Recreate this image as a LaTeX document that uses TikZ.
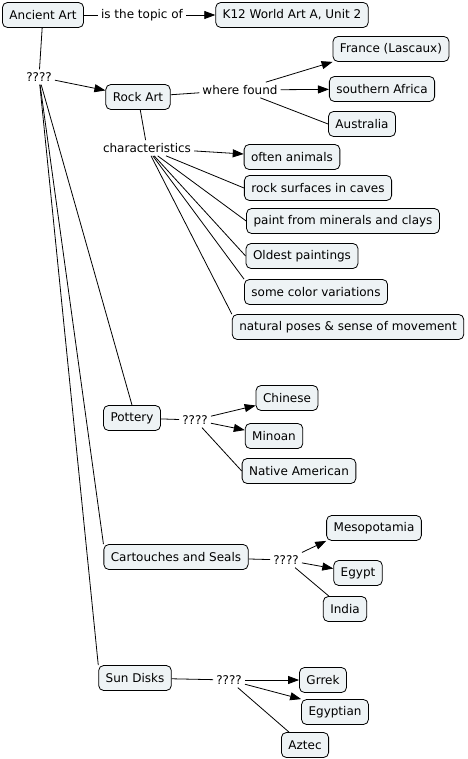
\documentclass[tikz,border=0pt]{standalone}
\usepackage{fontspec}
\setmainfont{DejaVu Sans}
\usetikzlibrary{arrows.meta}
\definecolor{BX}{RGB}{238,243,245}

\begin{document}
\begin{tikzpicture}[x=1pt, y=-1pt,
  cpt/.style={draw, rounded corners=5pt, fill=BX, line width=0.8pt,
              minimum height=25pt, inner xsep=7pt, font=\fontsize{12}{14}\selectfont},
  lnk/.style={inner sep=3pt, font=\fontsize{12}{14}\selectfont},
  arr/.style={-{Triangle[length=11pt,width=8pt]}, line width=0.8pt},
  ln/.style={line width=0.8pt}
]
\useasboundingbox (0,0) rectangle (467,759);

\node[cpt] (an)  at (43,15)   {Ancient Art};
\node[lnk] (top) at (142,15)  {is the topic of};
\node[cpt] (k12) at (292,15)  {K12 World Art A, Unit 2};
\node[lnk] (q0)  at (39,77)   {????};
\node[cpt] (rock) at (138,97) {Rock Art};
\node[lnk] (wf)  at (240,90)  {where found};
\node[cpt] (fr)  at (391,49)  {France (Lascaux)};
\node[cpt] (sa)  at (382,89)  {southern Africa};
\node[cpt] (au)  at (362,124) {Australia};
\node[lnk] (chr) at (147,148) {characteristics};
\node[cpt] (c1)  at (292,157) {often animals};
\node[cpt] (c2)  at (318,188) {rock surfaces in caves};
\node[cpt] (c3)  at (343,221) {paint from minerals and clays};
\node[cpt] (c4)  at (302,256) {Oldest paintings};
\node[cpt] (c5)  at (316,292) {some color variations};
\node[cpt] (c6)  at (348,327) {natural poses \& sense of movement};

\node[cpt] (pot) at (132,418) {Pottery};
\node[lnk] (q1)  at (195,420) {????};
\node[cpt] (chi) at (287,398) {Chinese};
\node[cpt] (min) at (274,436) {Minoan};
\node[cpt] (nat) at (299,471) {Native American};

\node[cpt] (car) at (176,557) {Cartouches and Seals};
\node[lnk] (q2)  at (286,560) {????};
\node[cpt] (mes) at (374,528) {Mesopotamia};
\node[cpt] (egy) at (358,573) {Egypt};
\node[cpt] (ind) at (345,609) {India};

\node[cpt] (sun) at (135,678) {Sun Disks};
\node[lnk] (q3)  at (229,680) {????};
\node[cpt] (grk) at (323,680) {Grrek};
\node[cpt] (egn) at (335,712) {Egyptian};
\node[cpt] (azt) at (305,745) {Aztec};

\draw[ln]  (an) -- (top);
\draw[arr] (top) -- (k12);
\draw[ln]  (an) -- (q0);
\draw[arr] (q0) -- (rock);
\draw[ln]  (q0) -- (pot.north);
\draw[ln]  (q0) -- (car.north west);
\draw[ln]  (q0) -- (sun.north west);

\draw[ln]  (rock) -- (wf);
\draw[arr] (wf) -- (fr.south west);
\draw[arr] (wf) -- (sa);
\draw[ln]  (wf) -- (au.west);
\draw[ln]  (rock) -- (chr);
\draw[arr] (chr) -- (c1);
\draw[ln]  (chr) -- (c2.west);
\draw[ln]  (chr) -- (c3.west);
\draw[ln]  (chr) -- (c4.west);
\draw[ln]  (chr) -- (c5.north west);
\draw[ln]  (chr) -- (c6.north west);

\draw[ln]  (pot) -- (q1);
\draw[arr] (q1) -- (chi);
\draw[arr] (q1) -- (min);
\draw[ln]  (q1) -- (nat.west);

\draw[ln]  (car) -- (q2);
\draw[arr] (q2) -- (mes.south west);
\draw[arr] (q2) -- (egy);
\draw[ln]  (q2) -- ([xshift=6pt]ind.north west);

\draw[ln]  (sun) -- (q3);
\draw[arr] (q3) -- (grk);
\draw[arr] (q3) -- (egn.north west);
\draw[ln]  (q3) -- ([xshift=8pt]azt.north west);
\end{tikzpicture}
\end{document}
